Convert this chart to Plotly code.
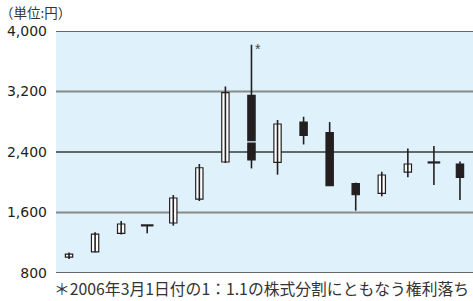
import plotly.graph_objects as go

# ---- data (円) ----
periods = list(range(16))
opens  = [1010, 1080, 1325, 1430, 1461, 1778, 2268, 3148, 2262, 2796, 2655, 1981, 1853, 2135, 2262, 2241]
highs  = [1070, 1340, 1487, 1430, 1831, 2241, 3267, 3818, 2823, 2866, 2796, 1995, 2139, 2447, 2479, 2275]
lows   = [985, 1075, 1310, 1325, 1425, 1752, 2254, 2549, 2100, 2500, 1950, 1624, 1814, 2065, 1964, 1765]
closes = [1050, 1315, 1448, 1430, 1792, 2192, 3184, 2549, 2770, 2619, 1954, 1835, 2096, 2241, 2262, 2065]
# post-split portion of period 8 (index 7)
split_period = 7
split_open, split_high, split_low, split_close = 2519, 2519, 2183, 2295

tick_vals = [800, 1600, 2400, 3200, 4000]
tick_text = ["800", "1,600", "2,400", "3,200", "4,000"]
grid_colors = ["#3a3a3a", "#8a8a8a", "#3a3a3a", "#8a8a8a", "#3a3a3a"]
grid_widths = [1.3, 2, 1.3, 2, 1.3]

title_text = "（単位:円）"
note_text = "＊2006年3月1日付の1：1.1の株式分割にともなう権利落ち"

DARK = "#231f20"

# combine candles
xs = periods + [split_period]
o = opens + [split_open]
h = highs + [split_high]
l = lows + [split_low]
c = closes + [split_close]

fig = go.Figure()

# wicks
wx, wy = [], []
for xi, hi, lo in zip(xs, h, l):
    wx += [xi, xi, None]
    wy += [lo, hi, None]
fig.add_trace(go.Scatter(x=wx, y=wy, mode="lines", line=dict(color=DARK, width=1.6),
                         hoverinfo="skip", showlegend=False))

# bodies
bx, bbase, bh, bcol = [], [], [], []
dx, dy = [], []
for xi, oi, ci in zip(xs, o, c):
    if oi == ci:
        dx.append(xi); dy.append(oi)
    else:
        bx.append(xi); bbase.append(min(oi, ci)); bh.append(abs(ci - oi))
        bcol.append("white" if ci > oi else DARK)
fig.add_trace(go.Bar(x=bx, y=bh, base=bbase, width=0.28,
                     marker=dict(color=bcol, line=dict(color=DARK, width=1.2)),
                     showlegend=False))
fig.add_trace(go.Scatter(x=dx, y=dy, mode="markers",
                         marker=dict(symbol="line-ew", size=9, line=dict(color=DARK, width=2.2)),
                         showlegend=False))

# gridlines
for v, col, w in zip(tick_vals, grid_colors, grid_widths):
    fig.add_shape(type="line", xref="paper", x0=0, x1=1, yref="y", y0=v, y1=v,
                  line=dict(color=col, width=w), layer="below")

# asterisk at split candle top
fig.add_annotation(x=split_period, y=highs[split_period], text="*", showarrow=False,
                   xanchor="left", yanchor="top", xshift=2, yshift=6,
                   font=dict(size=14, color="#444", family="Liberation Sans"))

fig.add_annotation(xref="paper", yref="paper", x=-0.14, y=1.077, text=title_text,
                   showarrow=False, xanchor="left", yanchor="middle",
                   font=dict(size=13.5, color="#333", family="Noto Sans CJK JP"))
fig.add_annotation(xref="paper", yref="paper", x=0.995, y=-0.065, text=note_text,
                   showarrow=False, xanchor="right", yanchor="middle",
                   font=dict(size=15.8, color="#333", family="Noto Sans CJK JP"))

fig.update_layout(
    width=473, height=301,
    margin=dict(l=56, r=0, t=31, b=28),
    paper_bgcolor="white", plot_bgcolor="#dff1fb",
    barmode="overlay",
    xaxis=dict(range=[-0.5, 15.5], visible=False, fixedrange=True),
    yaxis=dict(range=[800, 4000], tickvals=tick_vals, ticktext=tick_text,
               showgrid=False, zeroline=False, showline=False, ticks="",
               ticklabelstandoff=8, fixedrange=True,
               tickfont=dict(size=14, color=DARK, family="DejaVu Sans")),
    showlegend=False,
)

fig.write_html("out.html", config={"displayModeBar": False},
               post_script="document.body.style.margin='0';document.body.style.overflow='hidden';")
